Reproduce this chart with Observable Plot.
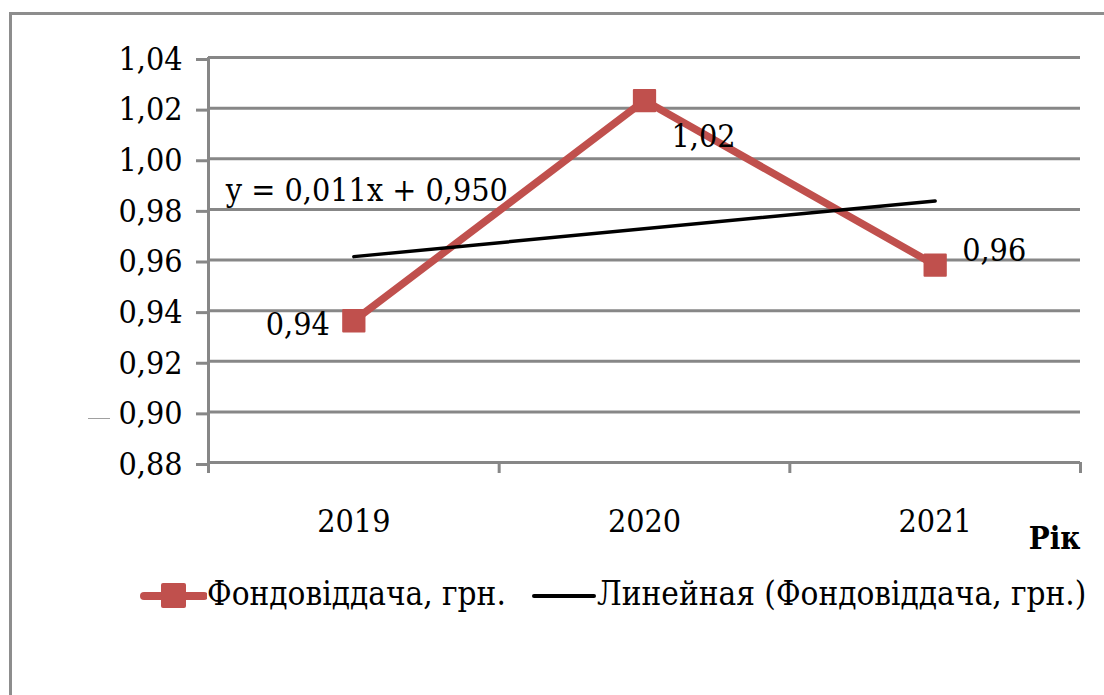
<!DOCTYPE html>
<html>
<head>
<meta charset="utf-8">
<script src="https://cdn.jsdelivr.net/npm/d3@7"></script>
<script src="https://cdn.jsdelivr.net/npm/@observablehq/plot@0.6"></script>
<style>
  html, body { margin: 0; padding: 0; background: #fff; }
  #chart { position: relative; width: 1104px; height: 695px; overflow: hidden;
           font-family: "DejaVu Serif Condensed", "DejaVu Serif", serif; font-stretch: condensed; }
  #frame { position: absolute; left: 9px; top: 12px; width: 1200px; height: 800px; border-left: 3px solid #8d8d8d; border-top: 3px solid #8d8d8d; }
  #plot { position: absolute; left: 0; top: 0; }
  .item { position: absolute; top: 574px; display: flex; align-items: center; font-size: 33px; color: #000; white-space: nowrap; }
  .item svg { display: block; }
  #stray { position: absolute; left: 88px; top: 418px; width: 22px; height: 1px; background: #a0a0a0; }
</style>
</head>
<body>
<div id="chart">
  <div id="frame"></div>
  <div id="stray"></div>
  <div id="plot"></div>
  <div class="item" id="legend-series" style="left: 138px;"></div>
  <div class="item" id="legend-trend" style="left: 532px;"></div>
</div>
<script>
// Asset turnover by year (UAH of output per UAH of fixed assets)
const years = ["2019", "2020", "2021"];
const values = [0.936, 1.023, 0.958];
const yTicks = [0.88, 0.90, 0.92, 0.94, 0.96, 0.98, 1.00, 1.02, 1.04];
const seriesName = "Фондовіддача, грн.";
const trendName = "Линейная (Фондовіддача, грн.)";
const xTitle = "Рік";

const red = "#c0504d";
const grid = "#878787";
const font = "'DejaVu Serif Condensed', 'DejaVu Serif', serif";
const fs = 32;

// Category index 1..n so the trend equation uses the same x as the spreadsheet
const data = years.map((year, k) => ({ idx: k + 1, year, value: values[k] }));

// Least-squares trend line
const mx = d3.mean(data, d => d.idx);
const my = d3.mean(data, d => d.value);
const slope = d3.sum(data, d => (d.idx - mx) * (d.value - my)) / d3.sum(data, d => (d.idx - mx) ** 2);
const intercept = my - slope * mx;
const comma = s => s.replace(".", ",");
const f2 = v => comma(d3.format(".2f")(v));
const f3 = v => comma(d3.format(".3f")(v));
const equation = `y = ${f3(slope)}x + ${f3(intercept)}`;
const trendStart = { idx: data[0].idx, value: intercept + slope * data[0].idx };

// Category boundaries for the x-axis tick marks
const bounds = d3.range(0, years.length + 1).map(k => k + 0.5);

const label = (d, opts) => Plot.text([d], { x: "idx", y: "value", text: v => f2(v.value), fontSize: fs, fill: "#000", ...opts });

const chart = Plot.plot({
  width: 1104,
  height: 695,
  marginLeft: 208,
  marginRight: 24,
  marginTop: 57,
  marginBottom: 233,
  style: { fontFamily: font, fontStretch: "condensed", fontSize: fs + "px", background: "transparent", overflow: "visible" },
  x: { type: "linear", domain: [0.5, years.length + 0.5] },
  y: { domain: [0.88, 1.04] },
  marks: [
    Plot.ruleY(yTicks, { stroke: grid, strokeWidth: 3 }),
    Plot.ruleX([0.5], { stroke: grid, strokeWidth: 3, insetBottom: -11 }),
    Plot.axisY(yTicks, { tickSize: 12, tickPadding: 14, stroke: grid, strokeWidth: 3, fill: "#000", tickFormat: f2, label: null, dy: 2 }),
    Plot.axisX(bounds, { tickSize: 11, stroke: grid, strokeWidth: 3, tickFormat: () => "", label: null }),
    Plot.axisX(data.map(d => d.idx), { tickSize: 0, tickPadding: 47, tickFormat: i => years[i - 1], fill: "#000", label: null }),
    Plot.text([xTitle], { frameAnchor: "bottom-right", textAnchor: "end", lineAnchor: "bottom", dy: 86, fontSize: 31, fontWeight: "bold", fill: "#000" }),
    Plot.line(data, { x: "idx", y: "value", stroke: red, strokeWidth: 7.5, strokeLinejoin: "miter" }),
    Plot.dot(data, { x: "idx", y: "value", symbol: "square", r: 12, fill: red, stroke: red, strokeWidth: 2, strokeLinejoin: "round" }),
    Plot.linearRegressionY(data, { x: "idx", y: "value", ci: 0, stroke: "#000", strokeWidth: 3.5 }),
    Plot.text([trendStart], { x: "idx", y: "value", text: () => equation, textAnchor: "start", dx: -128, dy: -66, fontSize: fs, fill: "#000" }),
    label(data[0], { textAnchor: "end", dx: -24, dy: 4 }),
    label(data[1], { textAnchor: "start", dx: 27, dy: 36 }),
    label(data[2], { textAnchor: "start", dx: 27, dy: -14 })
  ]
});
document.getElementById("plot").append(chart);

// Legend: series swatch (line + square marker) and trend swatch
const item1 = d3.select("#legend-series");
const sw1 = item1.append("svg").attr("width", 69).attr("height", 30);
sw1.append("line").attr("x1", 6).attr("x2", 66).attr("y1", 17).attr("y2", 17)
  .attr("stroke", red).attr("stroke-width", 8).attr("stroke-linecap", "round");
sw1.append("rect").attr("x", 23).attr("y", 4).attr("width", 25).attr("height", 25)
  .attr("rx", 2).attr("fill", red);
item1.append("span").text(seriesName);
const item2 = d3.select("#legend-trend");
const sw2 = item2.append("svg").attr("width", 65).attr("height", 30);
sw2.append("line").attr("x1", 2).attr("x2", 62).attr("y1", 17).attr("y2", 17)
  .attr("stroke", "#000").attr("stroke-width", 4).attr("stroke-linecap", "round");
item2.append("span").text(trendName);
</script>
</body>
</html>
